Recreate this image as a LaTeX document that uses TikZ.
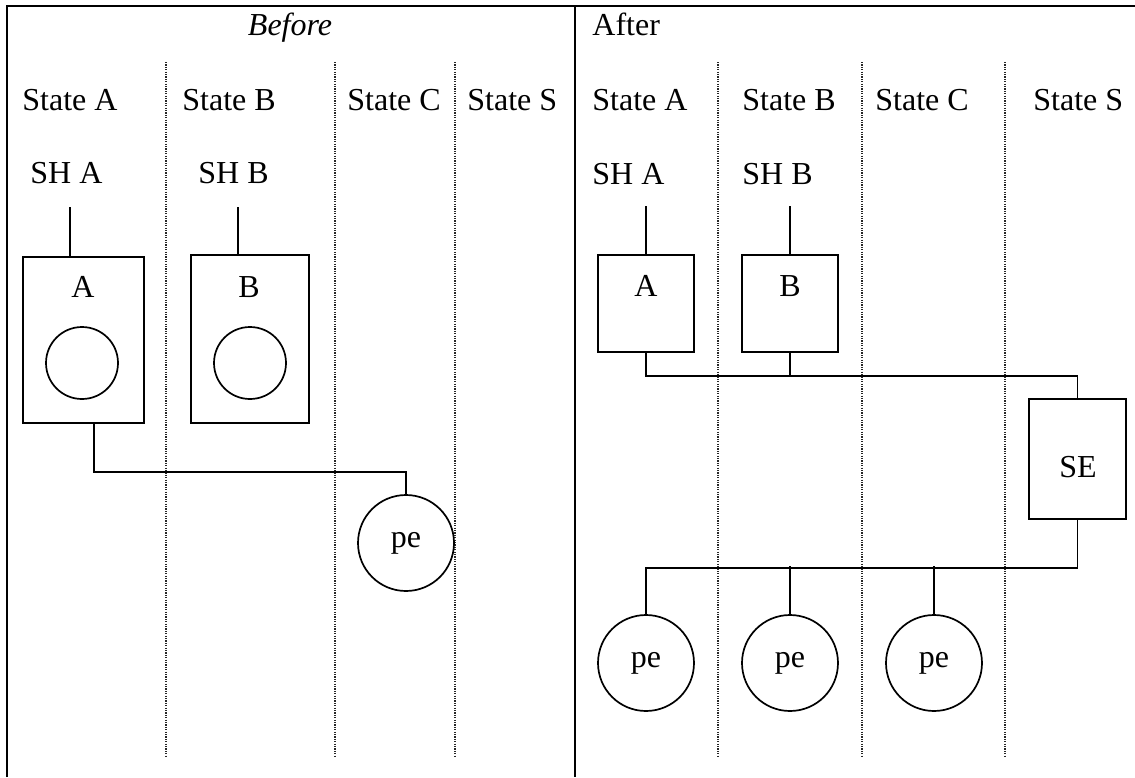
\documentclass[tikz,border=0pt]{standalone}
\usepackage{fontspec}
\setmainfont{Liberation Serif}
\usepackage{tikz}
\usetikzlibrary{positioning}

\tikzset{
	frameline/.style={line width=1.3pt},
	statesep/.style={black!85, line width=0.7pt, dash pattern=on 0.6pt off 0.6pt},
	wire/.style={line width=0.85pt},
	lbl/.style={anchor=base west, inner sep=0pt},
	tag/.style={anchor=base, inner sep=0pt},
	unitbox/.style={draw, line width=0.85pt, inner sep=0pt},
	hole/.style={draw, circle, line width=0.85pt, minimum size=36pt, inner sep=0pt},
	peball/.style={draw, circle, line width=0.85pt, minimum size=48pt, inner sep=0pt}
}

\begin{document}
\begin{tikzpicture}[x=0.5pt, y=-0.5pt, font=\fontsize{16}{19}\selectfont]
	\useasboundingbox (0,0) rectangle (1135,777);
	% frame and state columns
	\draw[frameline] (7,777) -- (7,6) -- (1135,6);
	\draw[frameline] (575,6) -- (575,777);
	\foreach \x in {166,335,455,718,862,1005}
		\draw[statesep] (\x,62) -- (\x,757);

	% before
	\node[tag] (before) at (290,35) {\textit{Before}};
	\node[lbl] (stA) at (22,110) {State A};
	\node[lbl] (stB) at (182,110) {State B};
	\node[lbl] (stC) at (347,110) {State C};
	\node[lbl] (stS) at (467,110) {State S};
	\node[lbl] (shA) at (30,183) {SH A};
	\node[lbl] (shB) at (198,183) {SH B};
	\node[unitbox, minimum width=60.5pt, minimum height=83pt] (A) at (83.5,340) {};
	\node[unitbox, minimum width=59pt, minimum height=84pt] (B) at (250,339) {};
	\node[tag] (A-lbl) at (83,297) {A};
	\node[tag] (B-lbl) at (249,297) {B};
	\node[hole] (A-in) at (82,363) {};
	\node[hole] (B-in) at (250,363) {};
	\node[peball] (pe) at (406,543) {pe};
	\coordinate (A-up) at (70,207);
	\coordinate (B-up) at (238,207);
	\draw[wire] (A-up) -- (A-up |- A.north);
	\draw[wire] (B-up) -- (B-up |- B.north);
	\draw[wire] ([xshift=5.25pt]A.south) -- ++(0,48) -| (pe.north);

	% after
	\node[lbl] (after) at (592,35) {After};
	\node[lbl] (stA2) at (592,110) {State A};
	\node[lbl] (stB2) at (742,110) {State B};
	\node[lbl] (stC2) at (875,110) {State C};
	\node[lbl] (stS2) at (1033,110) {State S};
	\node[lbl] (shA2) at (592,184) {SH A};
	\node[lbl] (shB2) at (742,184) {SH B};
	\node[unitbox, minimum width=48pt, minimum height=48.5pt] (A2) at (646,303.5) {};
	\node[unitbox, minimum width=48pt, minimum height=48.5pt] (B2) at (790,303.5) {};
	\node[unitbox, minimum width=48.5pt, minimum height=60pt] (SE) at (1077.5,459) {};
	\node[tag] (A2-lbl) at (646,296) {A};
	\node[tag] (B2-lbl) at (790,296) {B};
	\node[tag] (SE-lbl) at (1078,477) {SE};
	\node[peball] (peA2) at (646,663) {pe};
	\node[peball] (peB2) at (790,663) {pe};
	\node[peball] (peC2) at (934,663) {pe};
	\draw[wire] (A2.north) -- ++(0,-48);
	\draw[wire] (B2.north) -- ++(0,-48);
	\draw[wire] (A2.south) -- ++(0,23) -| (SE.north);
	\draw[wire] (B2.south) -- ++(0,23);
	\draw[wire] (SE.south) -- ++(0,48) -| (peA2.north);
	\draw[wire] (peB2.north) -- ++(0,-48);
	\draw[wire] (peC2.north) -- ++(0,-48);
\end{tikzpicture}
\end{document}
